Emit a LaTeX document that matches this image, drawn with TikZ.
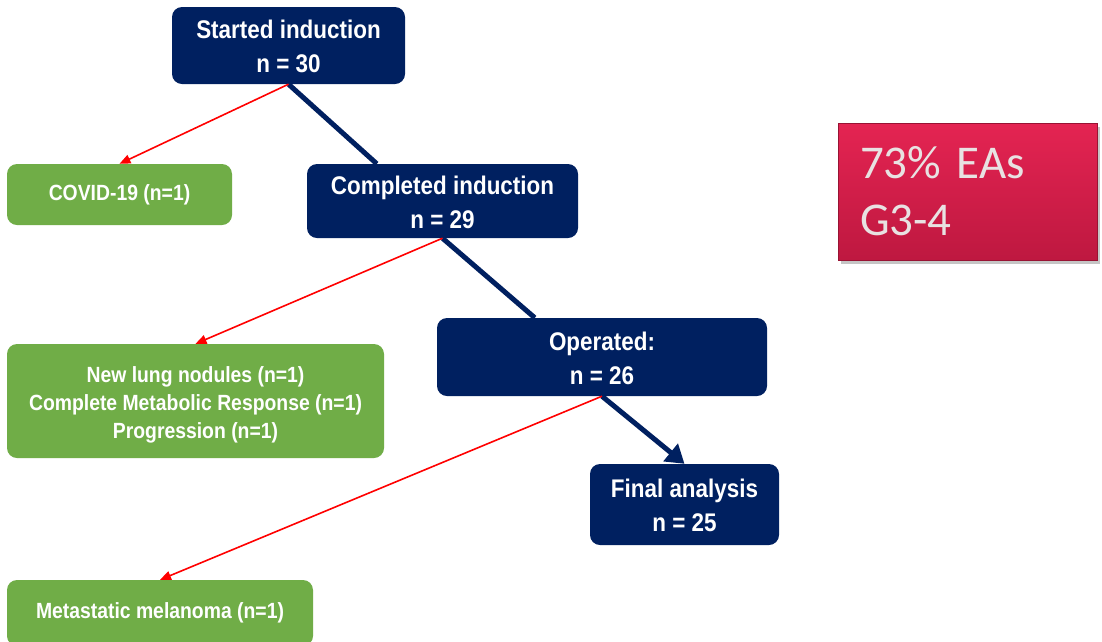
\documentclass[tikz,border=0pt]{standalone}
\usepackage{fontspec}
\setmainfont{Liberation Sans}
\newfontfamily\boxfont[FakeStretch=0.88]{Liberation Sans Bold}
\newfontfamily\calfont{Carlito}
\usetikzlibrary{arrows.meta,shadows,calc}
\definecolor{navy}{HTML}{002060}
\definecolor{grn}{HTML}{70AD47}
\definecolor{crimtop}{HTML}{E42452}
\definecolor{crimbot}{HTML}{BE1840}
\definecolor{pinktxt}{HTML}{E8E2E2}
\tikzset{
  darkbox/.style={fill=navy, rounded corners=10pt, text=white, align=center, inner sep=0pt,
    font=\boxfont\fontsize{25.5}{34}\selectfont},
  greenbox/.style={fill=grn, rounded corners=10pt, text=white, align=center, inner sep=0pt,
    font=\boxfont\fontsize{22}{28}\selectfont},
  redline/.style={draw=red, line width=1.6pt, -{Triangle[length=11pt,width=9pt]}},
  darkline/.style={draw=navy, line width=5pt},
  darkarrow/.style={draw=navy, line width=5pt, -{Triangle[length=18pt,width=22pt]}},
}
\begin{document}
\begin{tikzpicture}[x=1pt,y=-1pt]
\useasboundingbox (0,0) rectangle (1102,641);
\fill[white] (0,0) rectangle (1102,641);

\node[darkbox, minimum width=233pt, minimum height=77pt] (start) at (288.5,45.5) {\rule{0pt}{21pt}Started induction\\n = 30};
\node[darkbox, minimum width=271pt, minimum height=74pt] (comp) at (442.5,201) {\rule{0pt}{21pt}Completed induction\\n = 29};
\node[darkbox, minimum width=330pt, minimum height=78pt] (oper) at (602,357) {\rule{0pt}{21pt}Operated:\\n = 26};
\node[darkbox, minimum width=189pt, minimum height=81pt] (final) at (684.5,504.5) {\rule{0pt}{21pt}Final analysis\\n = 25};

\node[greenbox, minimum width=225pt, minimum height=61pt] (covid) at (119.5,194.5) {COVID-19 (n=1)};
\node[greenbox, minimum width=377pt, minimum height=114pt] (lung) at (195.5,401) {\rule{0pt}{24pt}New lung nodules (n=1)\\Complete Metabolic Response (n=1)\\Progression (n=1)};
\node[greenbox, minimum width=306pt, minimum height=66pt] (mel) at (160,613) {Metastatic melanoma (n=1)};

\node[top color=crimtop, bottom color=crimbot, draw=crimbot!80!black, line width=0.6pt,
      drop shadow={opacity=0.45, shadow xshift=3pt, shadow yshift=-4pt},
      minimum width=259pt, minimum height=137pt, text width=215pt, align=left,
      inner xsep=22pt, text=pinktxt, font=\calfont\fontsize{47}{57}\selectfont] (ea) at (967.5,191.5) {73\% EAs\\G3-4};

\draw[darkline] (start.south) -- ([xshift=70pt]comp.north west);
\draw[redline] (start.south) -- (covid.north);
\draw[darkline] (comp.south) -- ([xshift=98pt]oper.north west);
\draw[redline] (comp.south) -- (lung.north);
\draw[darkarrow] (oper.south) -- (final.north);
\draw[redline] (oper.south) -- (mel.north);
\end{tikzpicture}
\end{document}
